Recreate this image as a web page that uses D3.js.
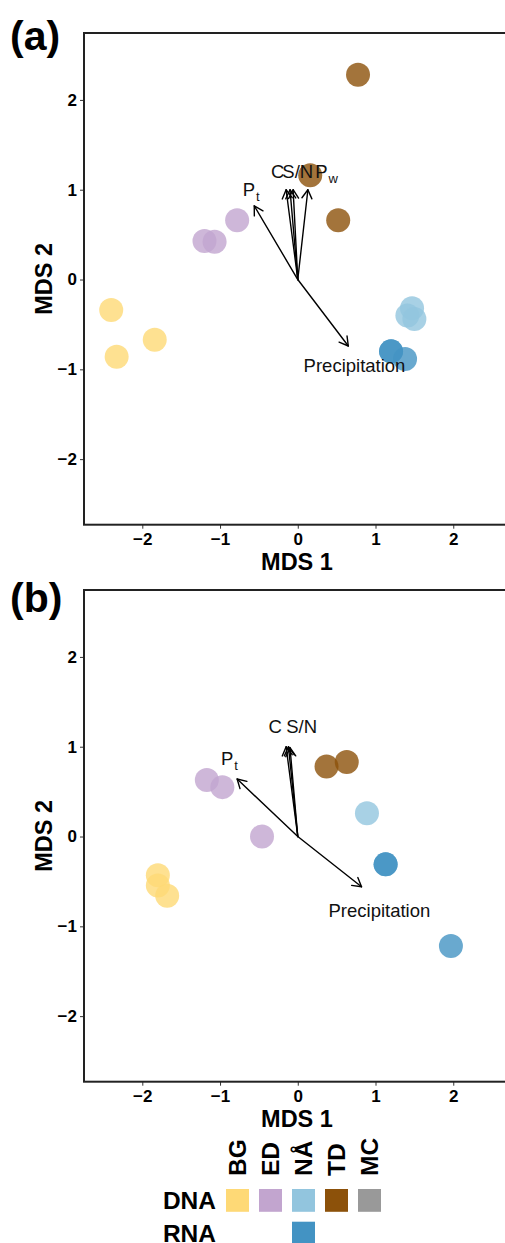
<!DOCTYPE html>
<html>
<head>
<meta charset="utf-8">
<script src="https://cdn.jsdelivr.net/npm/d3@7"></script>
<style>
  body { margin: 0; background: #fff; }
  svg { display: block; font-family: "Liberation Sans", Arial, Helvetica, sans-serif; }
  .tick text { font-size: 17px; font-weight: 700; fill: #000; font-family: "Liberation Sans", Arial, Helvetica, sans-serif; }
</style>
</head>
<body>
<svg id="chart" width="505" height="1243"></svg>
<script>
// ---- legend categories ----
const sites = ["BG", "ED", "NÅ", "TD", "MC"];
const dnaColors = ["#FED976", "#C2A5CF", "#92C5DE", "#8C510A", "#999999"];
const rnaColor = "#4393C3";
const rnaSites = ["NÅ"];
const axisTicks = [-2, -1, 0, 1, 2];

// ---- panel (a): NMDS sample scores ----
const siteA = ["BG","BG","BG","ED","ED","ED","NÅ","NÅ","NÅ","TD","TD","TD","NÅ","NÅ","NÅ"];
const typeA = ["DNA","DNA","DNA","DNA","DNA","DNA","DNA","DNA","DNA","DNA","DNA","DNA","RNA","RNA","RNA"];
const mds1A = [-2.40, -2.33, -1.84, -0.78, -1.20, -1.07, 1.47, 1.41, 1.50, 0.775, 0.16, 0.52, 1.20, 1.20, 1.38];
const mds2A = [-0.34, -0.86, -0.67, 0.66, 0.43, 0.42, -0.32, -0.40, -0.44, 2.28, 1.16, 0.66, -0.80, -0.80, -0.885];

// panel (a): fitted environmental vectors
const envNameA = ["P", "C", "", "S/N", "P", "Precipitation"];
const envSubA  = ["t", "", "", "", "w", ""];
const envXA = [-0.56, -0.15, -0.10, -0.06, 0.13, 0.65];
const envYA = [0.82, 1.00, 1.00, 1.00, 1.00, -0.74];
const labXA = [-0.60, -0.26, null, 0.00, 0.37, 0.73];
const labYA = [1.00, 1.21, null, 1.21, 1.21, -0.96];

// ---- panel (b): NMDS sample scores ----
const siteB = ["BG","BG","BG","ED","ED","ED","NÅ","TD","TD","NÅ","NÅ","NÅ"];
const typeB = ["DNA","DNA","DNA","DNA","DNA","DNA","DNA","DNA","DNA","RNA","RNA","RNA"];
const mds1B = [-1.80, -1.80, -1.68, -1.17, -0.97, -0.46, 0.89, 0.37, 0.63, 1.13, 1.13, 1.97];
const mds2B = [-0.43, -0.545, -0.66, 0.63, 0.55, 0.00, 0.26, 0.78, 0.83, -0.31, -0.31, -1.22];

// panel (b): fitted environmental vectors
const envNameB = ["P", "C", "", "S/N", "Precipitation"];
const envSubB  = ["t", "", "", "", ""];
const envXB = [-0.78, -0.15, -0.12, -0.10, 0.82];
const envYB = [0.64, 1.00, 1.00, 0.99, -0.56];
const labXB = [-0.88, -0.29, null, 0.05, 1.05];
const labYB = [0.87, 1.23, null, 1.23, -0.82];

// ---- drawing ----
const svg = d3.select("#chart");
const FONT_BOLD = 700;
const colorDNA = d3.scaleOrdinal().domain(sites).range(dnaColors);
const fmt = d => (d < 0 ? "\u2212" + Math.abs(d) : String(d));

const frame = { left: 84, right: 510, height: 491.7 };
const xScale = d3.scaleLinear().domain([-2.75, 2.73]).range([frame.left, frame.right]);

function drawPanel(opts) {
  const { top, tag, site, type, mx, my, envName, envSub, ex, ey, lx, ly } = opts;
  const bottom = top + frame.height;
  const y = d3.scaleLinear().domain([-2.73, 2.745]).range([bottom, top]);
  const x = xScale;
  const g = svg.append("g");

  // panel tag
  g.append("text")
    .attr("x", 10).attr("y", tag.y)
    .attr("font-size", 41).attr("font-weight", FONT_BOLD)
    .text(tag.text);

  // axes
  const xAxis = g.append("g").attr("transform", `translate(0,${bottom})`)
    .call(d3.axisBottom(x).tickValues(axisTicks).tickSize(4).tickPadding(3).tickFormat(fmt));
  const yAxis = g.append("g").attr("transform", `translate(${frame.left},0)`)
    .call(d3.axisLeft(y).tickValues(axisTicks).tickSize(4).tickPadding(3).tickFormat(fmt));
  [xAxis, yAxis].forEach(a => {
    a.attr("font-size", null).attr("font-family", null);
    a.select(".domain").remove();
    a.selectAll(".tick line").attr("stroke", "#333").attr("stroke-width", 1);
  });
  xAxis.selectAll(".tick text").attr("dy", "0.78em");

  // panel frame
  g.append("rect")
    .attr("x", frame.left).attr("y", top)
    .attr("width", frame.right - frame.left).attr("height", frame.height)
    .attr("fill", "none").attr("stroke", "#222").attr("stroke-width", 2);

  // axis titles
  g.append("text")
    .attr("x", (frame.left + frame.right) / 2).attr("y", bottom + 45.5)
    .attr("text-anchor", "middle")
    .attr("font-size", 23.5).attr("font-weight", FONT_BOLD)
    .text("MDS 1");
  g.append("text")
    .attr("transform", `translate(51.5,${(top + bottom) / 2}) rotate(-90)`)
    .attr("text-anchor", "middle")
    .attr("font-size", 23.5).attr("font-weight", FONT_BOLD)
    .text("MDS 2");

  // sample points
  const pts = mx.map((v, i) => ({ x: v, y: my[i], site: site[i], type: type[i] }));
  g.append("g").selectAll("circle").data(pts).join("circle")
    .attr("cx", d => x(d.x)).attr("cy", d => y(d.y)).attr("r", 12)
    .attr("fill", d => d.type === "RNA" ? rnaColor : colorDNA(d.site))
    .attr("fill-opacity", 0.8);

  // environmental vectors
  const ox = x(0), oy = y(0);
  const vecs = ex.map((v, i) => ({ x: v, y: ey[i], name: envName[i], sub: envSub[i], lx: lx[i], ly: ly[i] }));
  const arrows = g.append("g").attr("fill", "none").attr("stroke", "#000").attr("stroke-width", 1.4)
    .attr("stroke-linecap", "round").attr("stroke-linejoin", "round");
  vecs.forEach(v => {
    const tx = x(v.x), ty = y(v.y);
    const ang = Math.atan2(ty - oy, tx - ox);
    const L = 10, a = Math.PI / 6;
    const p1 = [tx - L * Math.cos(ang - a), ty - L * Math.sin(ang - a)];
    const p2 = [tx - L * Math.cos(ang + a), ty - L * Math.sin(ang + a)];
    arrows.append("path").attr("d", `M${ox},${oy}L${tx},${ty}`);
    arrows.append("path").attr("d", `M${p1[0]},${p1[1]}L${tx},${ty}L${p2[0]},${p2[1]}`);
  });

  // vector labels
  vecs.filter(v => v.name).forEach(v => {
    const t = g.append("text")
      .attr("x", x(v.lx)).attr("y", y(v.ly)).attr("dy", "0.36em")
      .attr("text-anchor", "middle").attr("font-size", 18.5).attr("fill", "#111");
    t.append("tspan").text(v.name);
    if (v.sub) {
      t.append("tspan").attr("font-size", 13).attr("dx", 1).attr("dy", 5).text(v.sub);
    }
  });
}

drawPanel({
  top: 33, tag: { text: "(a)", y: 50 },
  site: siteA, type: typeA, mx: mds1A, my: mds2A,
  envName: envNameA, envSub: envSubA, ex: envXA, ey: envYA, lx: labXA, ly: labYA
});
drawPanel({
  top: 590, tag: { text: "(b)", y: 612 },
  site: siteB, type: typeB, mx: mds1B, my: mds2B,
  envName: envNameB, envSub: envSubB, ex: envXB, ey: envYB, lx: labXB, ly: labYB
});

// ---- legend: site columns, nucleic-acid rows ----
const leg = svg.append("g");
const col = d3.scaleBand().domain(sites).range([226, 381]).paddingInner(10 / 33).paddingOuter(0);
const rows = ["DNA", "RNA"];
const row = d3.scaleBand().domain(rows).range([1189, 1244.5]).paddingInner(10 / 33).paddingOuter(0);

leg.selectAll("text.col").data(sites).join("text")
  .attr("class", "col")
  .attr("transform", d => `translate(${col(d) + col.bandwidth() / 2},1176) rotate(-90)`)
  .attr("dy", "0.36em")
  .attr("font-size", 24.5).attr("font-weight", FONT_BOLD)
  .text(d => d);

leg.selectAll("text.row").data(rows).join("text")
  .attr("class", "row")
  .attr("x", 216).attr("y", d => row(d) + row.bandwidth() / 2).attr("dy", "0.36em")
  .attr("text-anchor", "end")
  .attr("font-size", 24.5).attr("font-weight", FONT_BOLD)
  .text(d => d);

leg.selectAll("rect.dna").data(sites).join("rect")
  .attr("class", "dna")
  .attr("x", d => col(d)).attr("y", row("DNA"))
  .attr("width", col.bandwidth()).attr("height", row.bandwidth())
  .attr("fill", d => colorDNA(d));

leg.selectAll("rect.rna").data(rnaSites).join("rect")
  .attr("class", "rna")
  .attr("x", d => col(d)).attr("y", row("RNA"))
  .attr("width", col.bandwidth()).attr("height", row.bandwidth())
  .attr("fill", rnaColor);
</script>
</body>
</html>
